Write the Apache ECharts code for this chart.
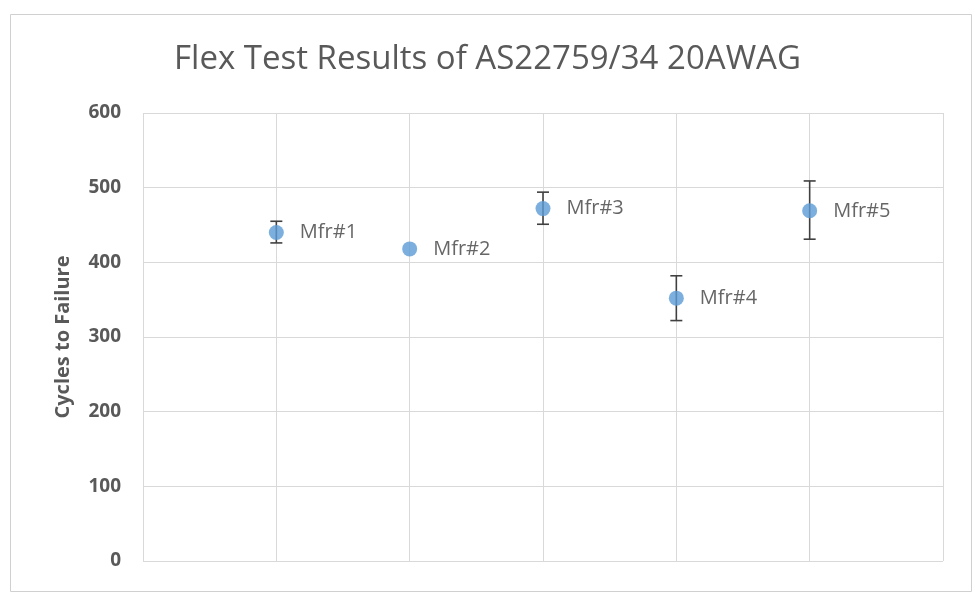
<!DOCTYPE html>
<html>
<head>
<meta charset="utf-8">
<script src="https://cdn.jsdelivr.net/npm/echarts@6/dist/echarts.min.js"></script>
<style>
html,body{margin:0;padding:0;background:#fff;}
#chart{width:975px;height:603px;}
</style>
</head>
<body>
<div id="chart"></div>
<script>
var categories = ['Mfr#1', 'Mfr#2', 'Mfr#3', 'Mfr#4', 'Mfr#5'];
var xPositions = [1, 2, 3, 4, 5];
var meanValues = [440, 418, 472, 352, 469];
var upperValues = [455, 418, 494, 382, 509];
var lowerValues = [426, 418, 451, 322, 431];
var yTicks = [0, 100, 200, 300, 400, 500, 600];

var pointData = categories.map(function (c, i) { return [xPositions[i], meanValues[i], c]; });
var errData = categories.map(function (c, i) { return [xPositions[i], lowerValues[i], upperValues[i]]; });

var chart = echarts.init(document.getElementById('chart'));
chart.setOption({
  animation: false,
  backgroundColor: '#fff',
  title: {
    text: 'Flex Test Results of AS22759/34 20AWAG',
    left: 'center',
    top: 38,
    textStyle: { fontFamily: 'Open Sans', fontSize: 33, fontWeight: 'normal', color: '#595959' }
  },
  graphic: [{
    type: 'rect',
    shape: { x: 10.5, y: 14.5, width: 961, height: 577 },
    style: { fill: 'none', stroke: '#d0d0d0', lineWidth: 1 },
    silent: true
  }],
  grid: { left: 143, top: 113, right: 32, bottom: 42 },
  xAxis: {
    type: 'value', min: 0, max: 6, interval: 1,
    axisLine: { show: false }, axisTick: { show: false }, axisLabel: { show: false },
    splitLine: { show: true, lineStyle: { color: '#d9d9d9', width: 1 } }
  },
  yAxis: {
    type: 'value', min: yTicks[0], max: yTicks[yTicks.length - 1], interval: 100,
    name: 'Cycles to Failure', nameLocation: 'middle', nameGap: 70,
    nameTextStyle: { fontFamily: 'Open Sans', fontSize: 20, fontWeight: 'bold', color: '#595959' },
    axisLine: { show: false }, axisTick: { show: false },
    axisLabel: { margin: 22, fontFamily: 'Open Sans', fontSize: 19, fontWeight: 'bold', color: '#595959' },
    splitLine: { show: true, lineStyle: { color: '#d9d9d9', width: 1 } }
  },
  series: [{
    type: 'custom',
    z: 3,
    data: errData,
    renderItem: function (params, api) {
      var x = api.value(0);
      var lo = api.coord([x, api.value(1)]);
      var hi = api.coord([x, api.value(2)]);
      if (Math.abs(lo[1] - hi[1]) < 1) return { type: 'group', children: [] };
      var w = 6;
      var st = { stroke: '#404040', lineWidth: 1.6 };
      return {
        type: 'group',
        children: [
          { type: 'line', shape: { x1: lo[0], y1: lo[1], x2: hi[0], y2: hi[1] }, style: st },
          { type: 'line', shape: { x1: lo[0] - w, y1: lo[1], x2: lo[0] + w, y2: lo[1] }, style: st },
          { type: 'line', shape: { x1: hi[0] - w, y1: hi[1], x2: hi[0] + w, y2: hi[1] }, style: st }
        ]
      };
    }
  }, {
    type: 'scatter',
    z: 4,
    symbolSize: 15,
    itemStyle: { color: '#5B9BD5' },
    data: pointData,
    label: {
      show: true, position: 'right', distance: 16,
      formatter: function (p) { return p.data[2]; },
      fontFamily: 'Open Sans', fontSize: 20, color: '#404040'
    }
  }]
});
</script>
</body>
</html>
